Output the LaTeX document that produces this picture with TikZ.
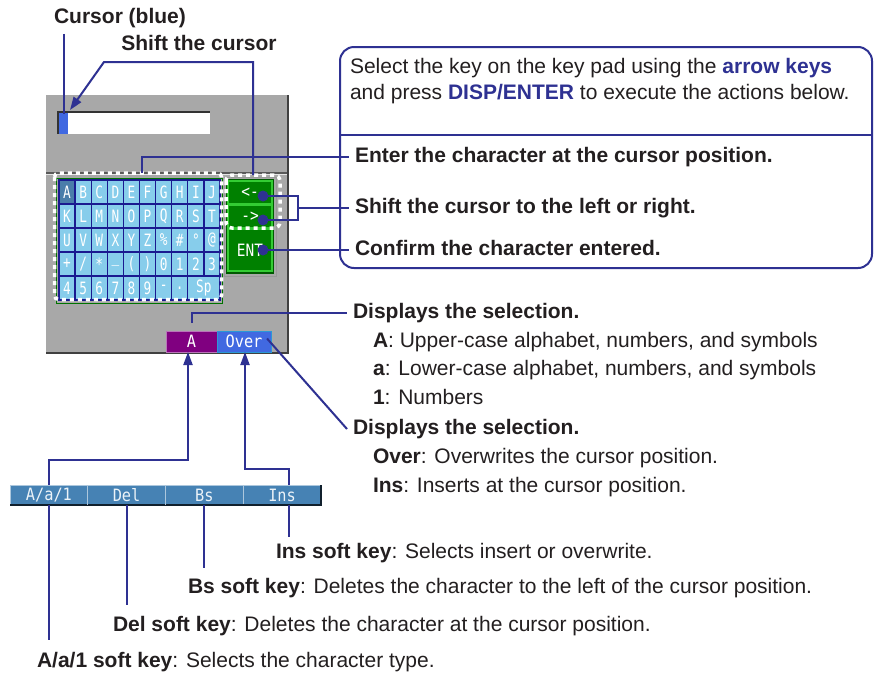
\documentclass[tikz,border=0pt]{standalone}
\usepackage{fontspec}
\usepackage{graphicx}
\setmainfont{Liberation Sans}
\newfontfamily\monof{DejaVu Sans Mono}
\usetikzlibrary{arrows.meta}
\definecolor{navyl}{HTML}{2E3192}
\definecolor{txt}{HTML}{231F20}
\definecolor{panelgray}{HTML}{A8A8A8}
\definecolor{keyblue}{HTML}{87CDEB}
\definecolor{keyline}{HTML}{1A1A90}
\definecolor{keysel}{HTML}{4A7DAA}
\definecolor{cursorblue}{HTML}{4169E1}
\definecolor{btngreen}{HTML}{008000}
\definecolor{btnlight}{HTML}{33CC33}
\definecolor{stpurple}{HTML}{800080}
\definecolor{stblue}{HTML}{4169E1}
\definecolor{softblue}{HTML}{4682B4}
\newcommand\scrtxt[2][0.9]{\scalebox{#1}[1]{\monof\fontsize{17}{17}\selectfont #2}}
\begin{document}
\begin{tikzpicture}[x=1pt,y=-1pt,
  every node/.style={inner sep=0pt, outer sep=0pt},
  lbl/.style={anchor=west, text=txt, font=\fontsize{21}{25}\selectfont, text height=15pt, text depth=4.5pt},
  blbl/.style={lbl, font=\fontsize{21}{25}\selectfont\bfseries},
  conn/.style={draw=navyl, line width=2pt},
  arr/.style={-{Triangle[length=13pt,width=9pt]}},
  keycell/.style={draw=keyline, line width=1.3pt, fill=keyblue, minimum width=16.1pt, minimum height=24pt, text=white},
  wdots/.style={draw=white, line width=3.5pt, dash pattern=on 4pt off 4pt},
  bluedot/.style={circle, fill=navyl, minimum size=11pt},
  btn/.style={draw=btnlight, line width=1.2pt, fill=btngreen, minimum width=44pt, text=white},
  softkey/.style={fill=softblue, minimum width=77.75pt, minimum height=20pt, text=white!90!softblue},
  lightedge/.style={draw=white!55!softblue, line width=1pt},
  darkedge/.style={draw=black!75!softblue, line width=1.2pt},
]
\useasboundingbox (0,0) rectangle (874,675);
\fill[white] (0,0) rectangle (874,675);

% ---- screen panel
\fill[panelgray] (46,95) rectangle (288,353);
\draw[black!75, line width=1.5pt] (288,95) -- (288,353) -- (46,353);
\draw[black!65, line width=1.3pt] (46,173) -- (287,173);
\draw[white!70!panelgray, line width=0.8pt] (46,174.8) -- (287,174.8);

% ---- entry field with cursor
\fill[white] (58,112) rectangle (210,134);
\draw[black!80, line width=1.3pt] (58,134) -- (58,112) -- (210,112);
\node[fill=cursorblue, minimum width=9pt, minimum height=21pt] (cursor) at (63.5,123.5) {};

% ---- key pad
\draw[green!45!black, line width=1pt] (56,178) rectangle (222,303);
\foreach \rl [count=\r] in {{A,B,C,D,E,F,G,H,I,J},{K,L,M,N,O,P,Q,R,S,T},{U,V,W,X,Y,Z,{\%},{\#},{°},{@}},{{+},{/},{*},{\_},{(},{)},0,1,2,3}}{
  \foreach \c [count=\k] in \rl {
    \ifnum\r=1 \ifnum\k=1 \def\kf{keysel}\else\def\kf{keyblue}\fi\else\def\kf{keyblue}\fi
    \node[keycell, fill=\kf] (k\r-\k) at ({59+16.1*(\k-0.5)},{180+24*(\r-0.5)}) {\scrtxt[0.75]{\c}};
  }
}
\foreach \c [count=\k] in {4,5,6,7,8,9,{-},{.}} {
  \node[keycell] (k5-\k) at ({59+16.1*(\k-0.5)},{180+24*4.5}) {\scrtxt[0.75]{\c}};
}
\node[keycell, minimum width=32.2pt] (k5-9) at ({59+16.1*9},{180+24*4.5}) {\scrtxt[0.75]{Sp}};
\draw[wdots, rounded corners=4pt] (54.5,173) rectangle (221.5,299.5);

% ---- green buttons
\draw[black!40, line width=1pt] (224.5,177) rectangle (276.5,276);
\fill[green!35!black] (226,179) rectangle (274,274);
\node[btn, minimum height=23pt] (bL) at (250,192.5) {\scrtxt[0.85]{<-}};
\node[btn, minimum height=23pt] (bR) at (250,216.5) {\scrtxt[0.85]{->}};
\node[btn, minimum height=42pt] (bE) at (250,250) {\scrtxt[0.85]{ENT}};
\draw[wdots, rounded corners=6pt] (226,175) rectangle (280,228);

% ---- status boxes
\node[fill=stpurple, draw=stpurple!55!white, line width=1pt, minimum width=51pt, minimum height=21pt, text=white] (stA) at (191.5,341.5) {\scrtxt{A}};
\node[fill=stblue, draw=cyan!60!stblue, line width=1pt, minimum width=54pt, minimum height=21pt, text=white] (stO) at (244,341.5) {\scrtxt{Over}};

% ---- soft key bar
\node[softkey] (skA) at (48.9,495) {\scrtxt{A/a/1}};
\node[softkey] (skDel) at (126.6,495) {\scrtxt{Del}};
\node[softkey] (skBs) at (204.4,495) {\scrtxt{Bs}};
\node[softkey] (skIns) at (282.1,495) {\scrtxt{Ins}};
\foreach \s in {skA,skDel,skBs,skIns}{
  \draw[lightedge] (\s.south west) |- (\s.north east);
  \draw[darkedge] (\s.north east) |- (\s.south west);
}

% ---- top labels
\node[blbl, anchor=center] (tCur) at (120,18) {Cursor (blue)};
\node[blbl, anchor=center] (tShc) at (199,45) {Shift the cursor};
\draw[conn] ([yshift=-6pt]tCur.south -| cursor.north) -- ([yshift=-1pt]cursor.north);
\coordinate (arTop) at (253,175);
\coordinate (sc1) at (104,62);
\draw[conn, arr] (arTop) |- (sc1) -- ([xshift=2pt,yshift=3pt]cursor.north east);

% ---- callout box
\draw[conn, rounded corners=14pt] (340,47) rectangle (872,268);
\draw[conn] (340,135) -- (872,135);
\node[lbl] (tSel1) at (350,68) {Select the key on the key pad using the \textcolor{navyl}{\bfseries arrow keys}};
\node[lbl] (tSel2) at (350,94) {and press \textcolor{navyl}{\bfseries DISP/ENTER} to execute the actions below.};
\node[blbl] (tEnter) at (355,157) {Enter the character at the cursor position.};
\node[blbl] (tShift) at (355,208) {Shift the cursor to the left or right.};
\node[blbl] (tConf) at (355,250) {Confirm the character entered.};

% ---- key pad connectors
\node[bluedot] (d1) at (263,196) {};
\node[bluedot] (d2) at (263,220) {};
\node[bluedot] (d3) at (263,250) {};
\coordinate (kpTop) at (142,172.5);
\draw[conn] (kpTop) |- ([xshift=-6pt]tEnter.west);
\coordinate (br) at (298,208);
\draw[conn] (d1.center) -- (d1.center -| br) -- (d2.center -| br) -- (d2.center);
\draw[conn] (br) -- ([xshift=-6pt]tShift.west);
\draw[conn] (d3.center) -- ([xshift=-6pt]tConf.west);

% ---- status descriptions
\node[blbl] (tDisp1) at (353,313) {Displays the selection.};
\draw[conn] ([yshift=8pt]stA.north) |- ([xshift=-6pt]tDisp1.west);
\node[lbl] (tA) at (373,342) {\textbf{A}: Upper-case alphabet, numbers, and symbols};
\node[lbl] (ta) at (373,370) {\textbf{a}: Lower-case alphabet, numbers, and symbols};
\node[lbl] (t1) at (373,399) {\textbf{1}: Numbers};
\node[blbl] (tDisp2) at (353,429) {Displays the selection.};
\draw[conn] ([xshift=-4pt,yshift=3pt]stO.east) -- ([xshift=-6pt]tDisp2.west);
\node[lbl] (tOver) at (373,458) {\textbf{Over}: Overwrites the cursor position.};
\node[lbl] (tIns) at (373,487) {\textbf{Ins}: Inserts at the cursor position.};

% ---- soft keys to status
\draw[conn, arr] (skA.north) -- ++(0,-25) -| ([xshift=-3.5pt]stA.south);
\coordinate (insx) at ([xshift=7pt]skIns.north);
\coordinate (insy) at ([xshift=7pt]skIns.south);
\draw[conn, arr] (insx) -- ++(0,-16) -| ([xshift=1pt]stO.south);

% ---- soft key descriptions
\node[lbl] (tInsK) at (276,553) {\textbf{Ins soft key}: Selects insert or overwrite.};
\node[lbl] (tBsK) at (188,588) {\textbf{Bs soft key}: Deletes the character to the left of the cursor position.};
\node[lbl] (tDelK) at (113,626) {\textbf{Del soft key}: Deletes the character at the cursor position.};
\node[lbl] (tAK) at (37,662) {\textbf{A/a/1 soft key}: Selects the character type.};
\draw[conn] (skA.south) -- ([yshift=12pt]tAK.north -| skA.south);
\draw[conn] (skDel.south) -- ([yshift=11pt]tDelK.north -| skDel.south);
\draw[conn] (skBs.south) -- ([yshift=10pt]tBsK.north -| skBs.south);
\draw[conn] (insy) -- ([yshift=6pt]tInsK.north -| insy);
\end{tikzpicture}
\end{document}
